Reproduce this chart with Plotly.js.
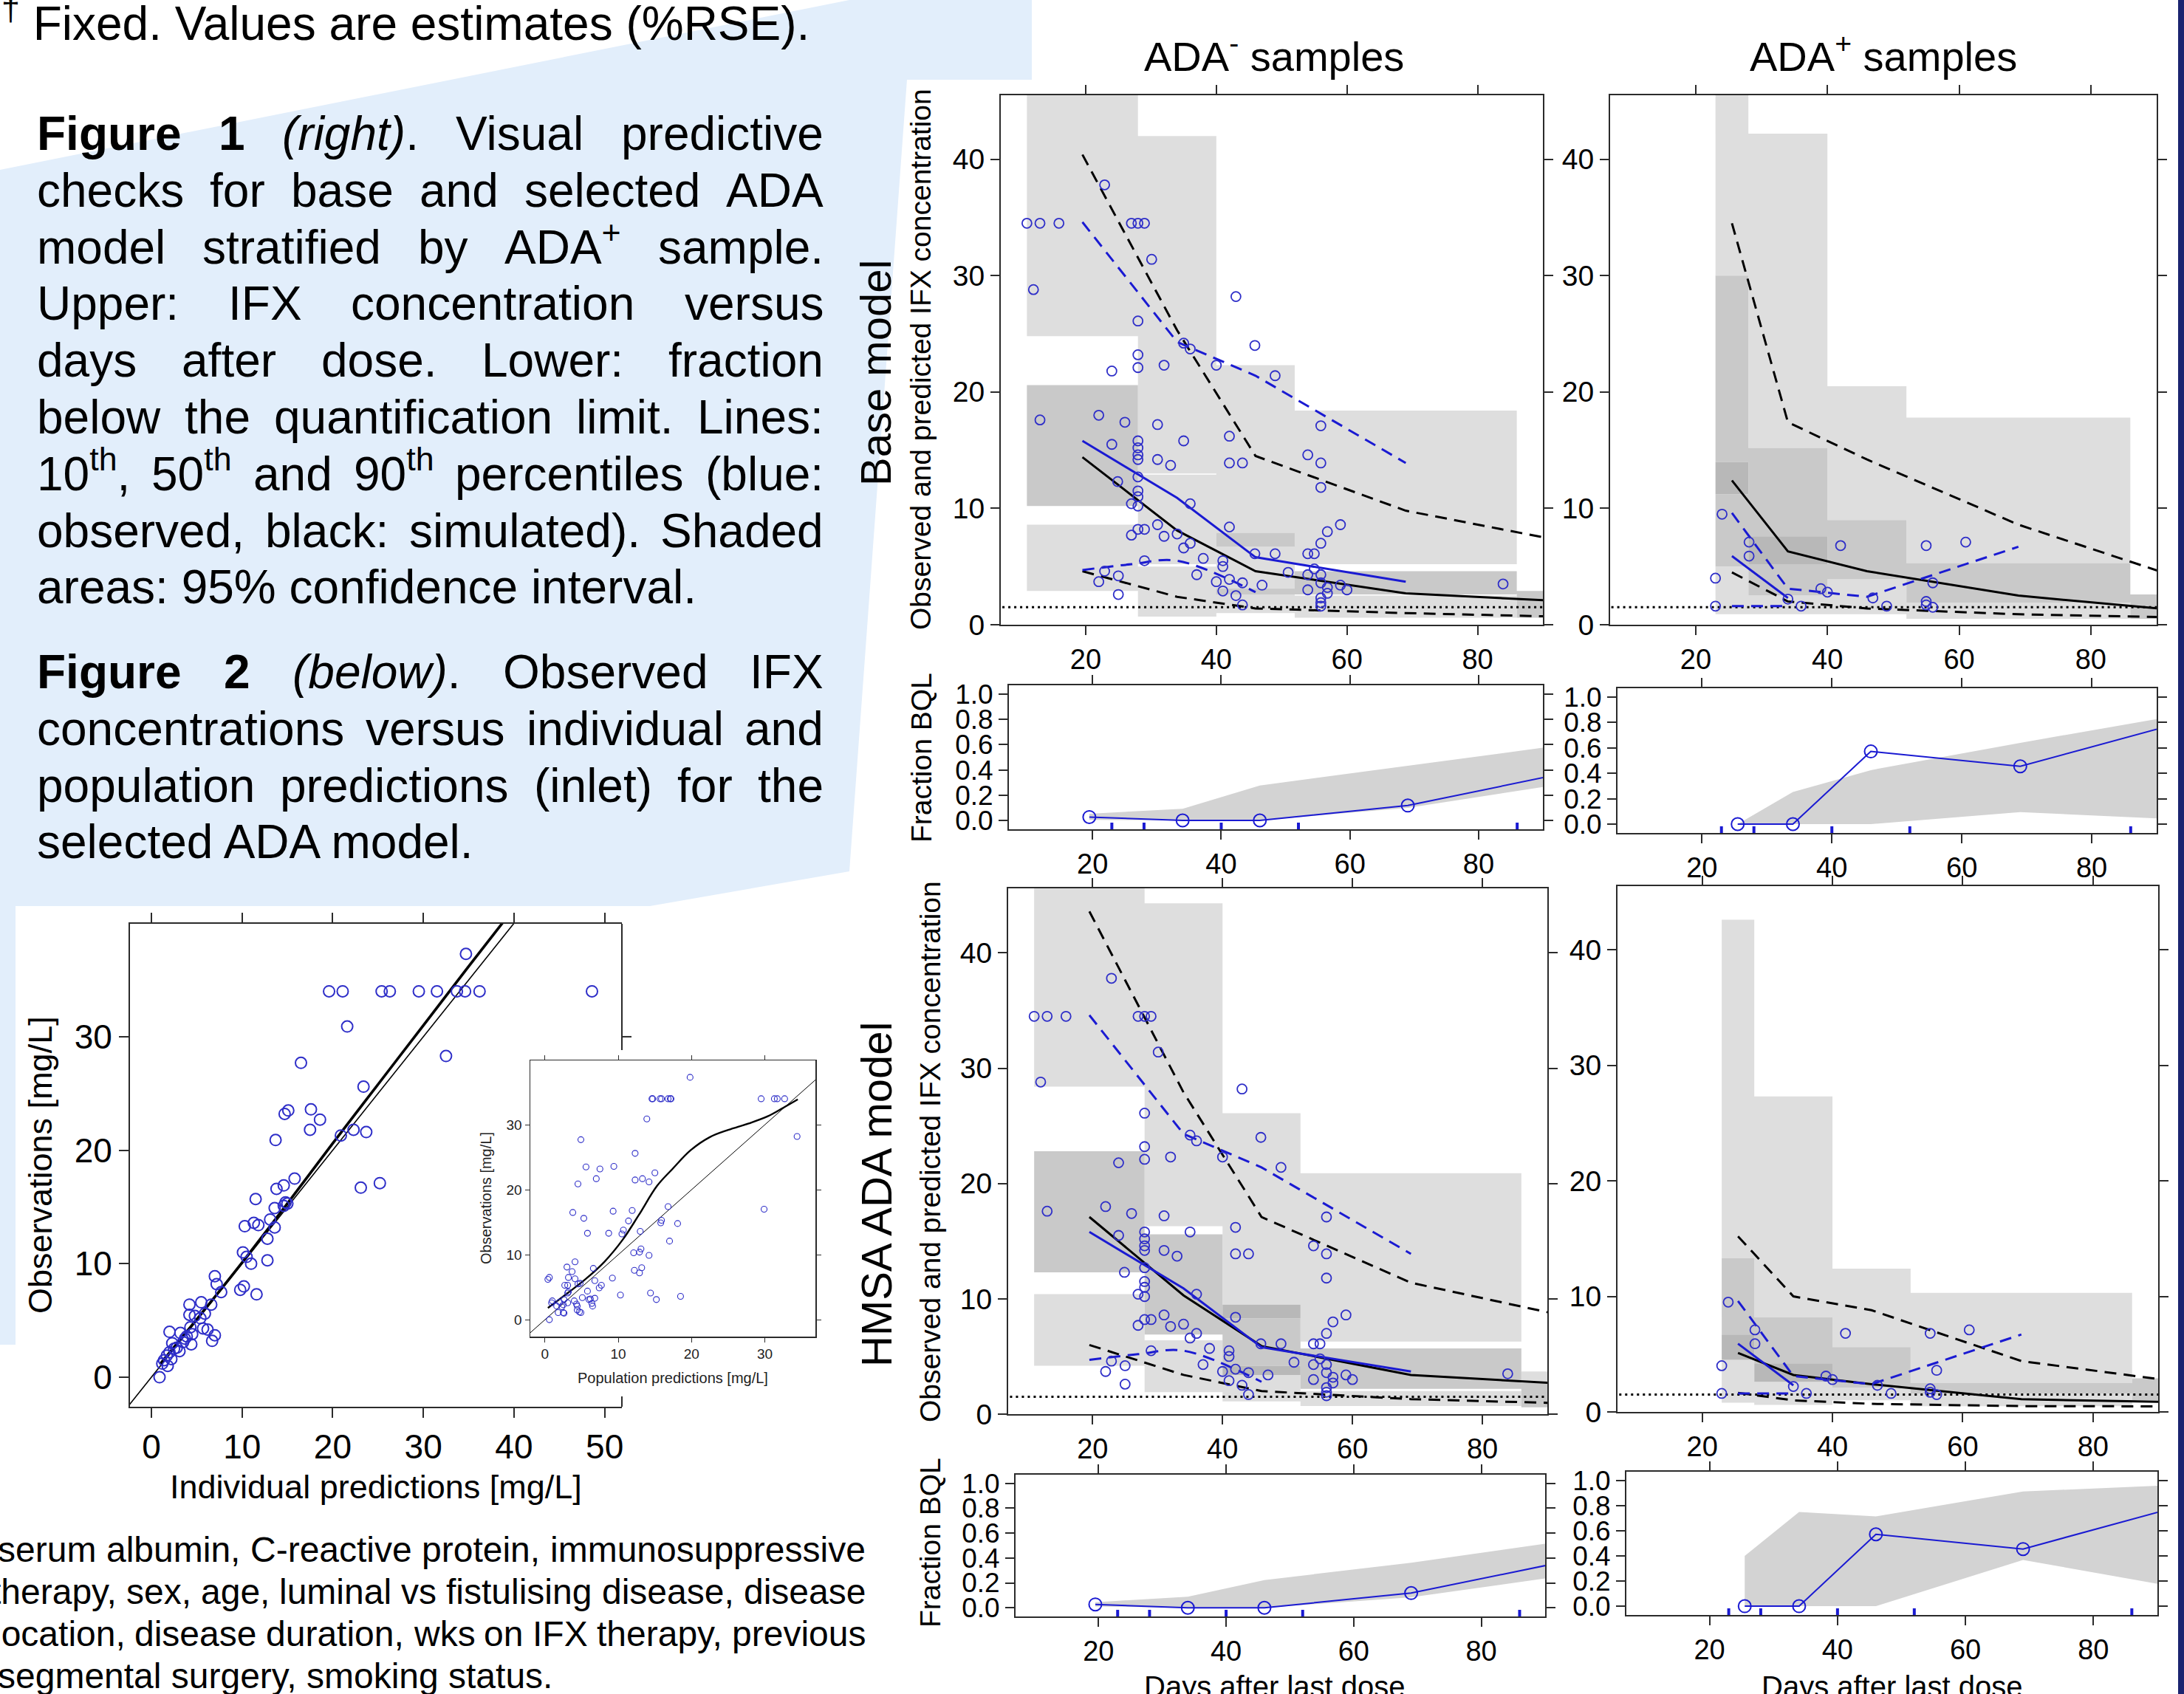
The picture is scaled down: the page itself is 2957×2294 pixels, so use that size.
<!DOCTYPE html>
<html>
<head>
<meta charset="utf-8">
<script src="https://cdn.plot.ly/plotly-3.0.1.min.js"></script>
<style>html,body{margin:0;padding:0;background:#fff;overflow:hidden}#plot{width:2957px;height:2294px}</style>
</head>
<body>
<div id="plot"></div>
<script>
// ================= DATA =================
const xTicks = [20, 40, 60, 80];
const concTicks = [0, 10, 20, 30, 40];
const bqlTicks = [0, 0.2, 0.4, 0.6, 0.8, 1.0];
const scatTicksX = [0, 10, 20, 30, 40, 50];
const scatTicksY = [0, 10, 20, 30];
const insetTicks = [0, 10, 20, 30];
const LOQ = 1.5;

// Observed IFX concentrations, ADA- samples (days after last dose, mg/L)
const obsNegDay = [11,13,15.9,12,22.9,27,28,29,30.1,43,
  28,28,28,24,32,35,36,40,45.9,49,
  13,22,26,31,56,24,28,28,28,28,
  35,42,54,31,33,42,44,56,28,24.9,
  56,28,28,27,28,36,31,42,59,27,
  28,29,32,34,57,36,35,56,45.9,49,
  54,55,38,29,41,41,55,37,51,54,
  56,22.9,25,22,40,42,44,47,59,57,
  60,56,41,54,43,25,57,56,56,56,
  44,83.9];
const obsNegConc = [34.5,34.5,34.5,28.8,37.8,34.5,34.5,34.5,31.4,28.2,
  26.1,23.2,22.1,21.8,22.3,24.2,23.7,22.3,24.0,21.4,
  17.6,18.0,17.4,17.2,17.1,15.5,15.8,15.2,14.6,14.2,
  15.8,16.2,14.6,14.2,13.7,13.9,13.9,13.9,12.7,12.3,
  11.8,11.5,11.0,10.4,10.2,10.4,8.6,8.4,8.6,7.7,
  8.2,8.2,7.6,7.8,8.0,7.0,6.6,7.0,6.1,6.1,
  6.1,6.1,5.7,5.5,5.5,5.0,4.8,4.3,4.5,4.3,
  4.3,4.6,4.2,3.7,3.7,3.9,3.6,3.4,3.4,3.2,
  3.0,3.6,2.9,3.0,2.5,2.6,2.7,2.3,1.9,1.6,
  1.7,3.5];
// Observed IFX concentrations, ADA+ samples
const obsPosDay  = [24,23,23,28.1,28.1,34,36,39,40,42,46.9,49,55,55,55,56,56,61];
const obsPosConc = [9.5,4.0,1.6,7.1,5.9,2.2,1.6,3.1,2.8,6.8,2.3,1.6,6.8,2.0,1.7,3.6,1.5,7.1];

// Observed percentiles (blue)
const obsNegMedDay = [19.5,34,46,69], obsNegMed = [15.8,10.9,5.8,3.7];
const obsNegP90Day = [19.5,34,46,69], obsNegP90 = [34.6,24.3,21.4,13.9];
const obsNegP10Day = [19.5,27,34,46], obsNegP10 = [4.7,5.2,5.5,2.8];
const obsPosMedDay = [25.5,34], obsPosMed = [5.9,2.3];
const obsPosP90Day = [25.5,34,46,69], obsPosP90 = [9.6,3.1,2.4,6.7];
const obsPosP10Day = [25.5,34], obsPosP10 = [1.6,1.6];

// Simulated percentiles (black)
const simNegDay = [19.5,34,46,69,92];
const simPosDay = [25.5,34,46,69,92];
const baseNegP90 = [40.4,25.3,14.5,9.8,7.3], baseNegMed = [14.4,8.1,4.6,2.7,2.05], baseNegP10 = [4.6,2.4,1.4,1.0,0.7];
const basePosP90 = [34.5,17.4,14.2,8.6,4.3], basePosMed = [12.4,6.3,4.6,2.5,1.3], basePosP10 = [4.5,2.0,1.4,0.9,0.65];
const hmsaNegP90 = [43.6,27.9,17.1,11.4,8.6], hmsaNegMed = [17.1,10.3,5.9,3.4,2.65], hmsaNegP10 = [6.0,3.4,2.0,1.3,0.95];
const hmsaPosP90 = [15.2,10.0,8.8,4.4,2.7], hmsaPosMed = [5.1,3.2,2.4,1.1,0.85], hmsaPosP10 = [1.65,1.0,0.7,0.5,0.48];

// 95% CI boxes: [day from, day to, conc low, conc high] and their shade class
const ciBaseNeg = [[11,28,24.8,46],[11,28,10.2,20.6],[11,28,2.9,8.6],[28,40,13.0,42.0],[28,40,5.2,12.9],[28,40,0.7,5.0],
  [40,52,7.9,22.3],[40,52,6.7,7.9],[40,52,1.0,6.7],[40,52,2.6,3.1],[52,86,5.2,18.4],[52,86,2.6,4.6],[52,86,0.6,2.5],[86,95,0.6,2.9]];
const ciBaseNegTone = ['L','M','L','L','L','L','L','M','L','M','L','M','L','M'];
const ciBasePos = [[23,28,30.0,46],[23,28,14.0,30.0],[23,28,11.2,14.0],[23,28,5.0,11.2],[23,28,0.9,5.0],
  [28,40,15.2,42.2],[28,40,7.6,15.2],[28,40,5.2,7.6],[28,40,2.5,5.2],[28,40,0.9,2.5],
  [40,52,9.0,20.5],[40,52,3.9,9.0],[40,52,0.9,3.9],[52,86,5.3,17.8],[52,86,1.9,5.3],[52,86,0.5,1.9],[86,95,0.5,2.6]];
const ciBasePosTone = ['L','M','D','M','L','L','M','D','M','L','L','M','L','L','M','L','M'];
const ciHmsaNeg = [[11,28,28.4,46],[11,28,12.3,22.8],[11,28,4.2,10.4],[28,40,16.3,44.3],[28,40,6.9,15.6],[28,40,1.9,6.4],
  [40,52,9.5,26.1],[40,52,8.3,9.5],[40,52,4.2,8.3],[40,52,3.4,4.2],[40,52,1.1,3.4],[52,86,6.3,20.9],[52,86,2.2,5.7],[52,86,0.7,2.0],
  [86,95,2.7,3.7],[86,95,0.6,2.7]];
const ciHmsaNegTone = ['L','M','L','L','M','L','L','D','M','D','L','L','M','L','L','M'];
const ciHmsaPos = [[23,28,13.3,42.6],[23,28,6.7,13.3],[23,28,4.5,6.7],[23,28,0.8,4.5],[28,40,8.2,27.3],[28,40,4.2,8.2],[28,40,2.6,4.2],[28,40,0.6,2.6],
  [40,52,5.6,12.4],[40,52,2.1,5.6],[40,52,1.0,2.1],[52,86,2.5,10.3],[52,86,1.6,2.5],[52,86,0.5,1.6],[86,95,1.0,2.9]];
const ciHmsaPosTone = ['L','M','D','L','L','M','D','L','L','M','L','L','M','L','M'];

// Fraction below quantification limit
const bqlNegDay = [19.5,34,46,69,92], bqlNegObs = [0.027,0,0,0.118,0.36];
const bqlPosDay = [25.5,34,46,69,92], bqlPosObs = [0,0,0.572,0.455,0.775];
const bqlBaseNegHi = [0.053,0.092,0.277,0.434,0.589], bqlBaseNegLo = [0.004,0,0,0.10,0.28];
const bqlHmsaNegHi = [0.045,0.089,0.223,0.362,0.53],  bqlHmsaNegLo = [0.01,0,0,0.085,0.25];
const bqlBasePosHi = [0,0.253,0.425,0.64,0.845],      bqlBasePosLo = [0,0,0,0.094,0.04];
const bqlHmsaPosHi = [0.40,0.75,0.715,0.913,0.962],   bqlHmsaPosLo = [0,0,0,0.368,0.16];
const rugDays = [23,28,40,52,86];

// Figure 2: observations vs individual predictions
const ipred = [19.6,21.1,25.4,26.3,29.5,31.5,33.7,34.6,36.2,48.6,
  34.7,21.6,32.5,16.5,23.4,15.1,14.7,17.6,18.6,13.7,
  17.5,20.9,22.3,23.7,23.1,25.2,15.8,14.6,13.8,11.5,
  15.0,14.6,14.8,13.6,13.1,10.3,11.3,11.8,13.6,12.8,
  10.1,10.5,11.0,12.8,7.0,7.2,7.7,10.2,9.8,11.6,
  4.2,5.5,6.6,4.2,4.8,5.4,5.9,5.7,6.2,4.3,
  7.0,6.7,2.0,3.2,3.7,4.4,2.3,2.8,3.1,2.0,
  1.7,1.4,1.2,1.8,0.9,2.5,3.5,3.9,4.5,2.2];
const ipredObs = [34,34,34,34,34,34,34,34,34,34,
  37.3,30.9,28.3,27.7,25.6,23.5,23.2,23.6,22.7,20.9,
  21.8,21.3,21.8,21.6,16.7,17.1,17.5,16.9,16.6,15.7,
  15.3,15.1,15.4,14.9,13.9,13.3,13.6,13.4,13.2,12.2,
  11.0,10.6,10.0,10.3,8.9,8.2,7.5,8.0,7.7,7.3,
  6.4,6.6,6.4,5.5,5.4,5.2,5.6,4.3,4.2,4.4,
  3.7,3.2,4.0,3.9,3.4,2.9,3.0,2.6,2.3,2.2,
  1.9,1.5,1.2,1.0,0.0,2.5,3.1,3.6,3.8,1.6];
const ipredSmoothX = [1,5,10,15,20,25,30,35,39];
const ipredSmoothY = [1.2,5.1,10.1,15.3,20.6,25.8,31.0,36.2,40.3];
// Inlet: observations vs population predictions
const pred = [19.8,14.6,14.7,15.7,15.9,16.8,17.1,17.2,29.5,31.3,
  31.7,32.7,13.9,34.4,4.9,12.3,5.6,7.5,9.4,15.0,
  7.0,12.3,13.3,14.2,4.5,3.8,9.3,11.9,16.8,29.9,
  5.3,11.4,15.9,15.8,18.1,5.8,8.7,10.7,10.5,13.0,
  17.0,12.1,12.9,13.1,14.2,4.1,12.2,12.9,13.2,3.0,
  3.7,6.6,0.4,0.6,3.2,4.1,9.2,6.8,2.7,3.1,
  4.5,4.8,7.7,7.4,5.8,3.1,3.2,14.4,10.3,18.5,
  5.1,6.2,6.0,6.8,15.2,1.0,2.0,2.6,4.0,3.1,
  4.3,4.4,6.4,6.5,0.9,1.6,2.3,2.5,4.4,4.7,
  4.9,1.8,2.5,2.6,0.6];
const predObs = [37.3,34,34,34,34,34,34,34,34,34,
  34,34,30.9,28.2,27.7,25.6,23.5,23.2,23.6,22.6,
  21.7,21.5,21.7,21.2,20.9,16.5,16.7,16.8,17.4,17.0,
  15.6,15.2,15.3,14.9,14.8,13.3,13.3,13.8,13.2,13.6,
  12.1,10.3,10.4,10.9,9.9,8.9,7.6,7.2,8.0,8.1,
  7.4,7.9,6.2,6.5,6.5,6.3,6.4,6.0,5.3,5.3,
  5.5,5.6,5.3,4.9,4.4,4.1,4.3,4.1,3.8,3.6,
  3.4,3.2,3.1,3.3,3.1,2.9,2.7,3.1,2.9,2.6,
  2.4,2.1,2.5,2.1,2.6,2.1,2.0,2.3,1.5,1.2,
  1.1,1.1,1.1,1.0,0.0];
const predSmoothX = [0.4,3.1,5.6,8.1,10.6,12.8,15.3,17.4,19.9,22.5,25.0,27.8,30.4,32.5,34.5];
const predSmoothY = [1.8,4.1,6.3,8.9,12.3,16.1,20.6,23.2,26.1,28.1,29.2,30.2,31.3,32.6,33.9];
const identity = [-5, 60];

// Texts
const topNote = "<sup>†</sup> Fixed. Values are estimates (%RSE).";
const fig1Lines = [
  "<b>Figure</b> <b>1</b> <i>(right)</i>. Visual predictive",
  "checks for base and selected ADA",
  "model stratified by ADA<sup>+</sup> sample.",
  "Upper: IFX concentration versus",
  "days after dose. Lower: fraction",
  "below the quantification limit. Lines:",
  "10<sup>th</sup>, 50<sup>th</sup> and 90<sup>th</sup> percentiles (blue:",
  "observed, black: simulated). Shaded",
  "areas: 95% confidence interval."];
const fig2Lines = [
  "<b>Figure</b> <b>2</b> <i>(below)</i>. Observed IFX",
  "concentrations versus individual and",
  "population predictions (inlet) for the",
  "selected ADA model."];
const covLines = [
  "serum albumin, C-reactive protein, immunosuppressive",
  "therapy, sex, age, luminal vs fistulising disease, disease",
  "location, disease duration, wks on IFX therapy, previous",
  "segmental surgery, smoking status."];

// ================= RENDERING =================
const W = 2957, H = 2294;
const FONT = '"Liberation Sans", Arial, Helvetica, sans-serif';
const PX = v => v / W, PY = v => 1 - v / H;
const BLUE = '#1a1ad2', PTBLUE = '#2e2ec8', AXC = '#2b2b2b';
const TONE = {L: '#dedede', M: '#c9c9c9', D: '#b8b8b8'};

function xAx(l, r, range, anchor, o) {
  return Object.assign({domain: [PX(l), PX(r)], range, anchor, showgrid: false, zeroline: false, showline: true,
    linecolor: AXC, linewidth: 2, mirror: 'ticks', ticks: 'outside', ticklen: 12, tickwidth: 2, tickcolor: AXC,
    tickmode: 'array', tickfont: {family: FONT, size: 38, color: '#000'}, fixedrange: true}, o || {});
}
function yAx(t, b, range, anchor, o) {
  return Object.assign({domain: [PY(b), PY(t)], range, anchor, showgrid: false, zeroline: false, showline: true,
    linecolor: AXC, linewidth: 2, mirror: 'ticks', ticks: 'outside', ticklen: 12, tickwidth: 2, tickcolor: AXC,
    tickmode: 'array', tickfont: {family: FONT, size: 39, color: '#000'}, fixedrange: true}, o || {});
}
const bqlFont = {family: FONT, size: 37, color: '#000'};

const layout = {
  width: W, height: H, margin: {l: 0, r: 0, t: 0, b: 0},
  paper_bgcolor: '#ffffff', plot_bgcolor: 'rgba(0,0,0,0)', showlegend: false,
  xaxis:  xAx(1355, 2089, [7, 90], 'y',  {tickvals: xTicks}),
  yaxis:  yAx(129, 846, [0, 45.5], 'x',  {tickvals: concTicks}),
  xaxis2: xAx(2180, 2920, [7, 90], 'y2', {tickvals: xTicks}),
  yaxis2: yAx(129, 846, [0, 45.5], 'x2', {tickvals: concTicks}),
  xaxis3: xAx(1366, 2089, [7, 90], 'y3', {tickvals: xTicks}),
  yaxis3: yAx(928, 1123, [-0.07, 1.07], 'x3', {tickvals: bqlTicks, tickformat: '.1f', tickfont: bqlFont}),
  xaxis4: xAx(2190, 2920, [7, 90], 'y4', {tickvals: xTicks}),
  yaxis4: yAx(932, 1128, [-0.07, 1.07], 'x4', {tickvals: bqlTicks, tickformat: '.1f', tickfont: bqlFont}),
  xaxis5: xAx(1365, 2095, [7, 90], 'y5', {tickvals: xTicks}),
  yaxis5: yAx(1203, 1915, [0, 45.6], 'x5', {tickvals: concTicks}),
  xaxis6: xAx(2190, 2922, [7, 90], 'y6', {tickvals: xTicks}),
  yaxis6: yAx(1200, 1912, [0, 45.5], 'x6', {tickvals: concTicks}),
  xaxis7: xAx(1375, 2092, [7, 90], 'y7', {tickvals: xTicks}),
  yaxis7: yAx(1997, 2189, [-0.07, 1.07], 'x7', {tickvals: bqlTicks, tickformat: '.1f', tickfont: bqlFont}),
  xaxis8: xAx(2202, 2921, [7, 90], 'y8', {tickvals: xTicks}),
  yaxis8: yAx(1993, 2187, [-0.07, 1.07], 'x8', {tickvals: bqlTicks, tickformat: '.1f', tickfont: bqlFont}),
  xaxis9: xAx(176, 842, [-2.36, 51.9], 'y9', {tickvals: scatTicksX, ticklen: 13, tickfont: {family: FONT, size: 46, color: '#000'}}),
  yaxis9: yAx(1251, 1905, [-2.6, 39.95], 'x9', {tickvals: scatTicksY, mirror: false, ticklen: 13, tickfont: {family: FONT, size: 46, color: '#000'}}),
  xaxis10: xAx(718, 1104, [-2.0, 36.9], 'y10', {tickvals: insetTicks, ticklen: 6, tickwidth: 1, linewidth: 1.5, tickfont: {family: FONT, size: 19, color: '#222'}}),
  yaxis10: yAx(1436, 1810, [-2.6, 39.9], 'x10', {tickvals: insetTicks, ticklen: 6, tickwidth: 1, linewidth: 1.5, tickfont: {family: FONT, size: 19, color: '#222'}}),
  shapes: [], annotations: []
};

// background shapes
const bgPoly = [[0,230],[1150,0],[1397,0],[1397,108],[1228,108],[1150,1180],[880,1227],[21,1227],[21,1821],[0,1821]];
layout.shapes.push({type: 'path', xref: 'paper', yref: 'paper', layer: 'below',
  path: 'M' + bgPoly.map(p => PX(p[0]) + ',' + PY(p[1])).join(' L') + ' Z',
  fillcolor: '#e2eefb', line: {width: 0}});
layout.shapes.push({type: 'rect', xref: 'paper', yref: 'paper', x0: PX(2949), x1: 1, y0: 0, y1: 1,
  fillcolor: '#1b2470', line: {width: 0}});
// right frame of figure 2 (partly hidden behind the inlet)
layout.shapes.push({type: 'line', xref: 'paper', yref: 'paper', x0: PX(842), x1: PX(842), y0: PY(1251), y1: PY(1422), line: {color: AXC, width: 2}});
layout.shapes.push({type: 'line', xref: 'paper', yref: 'paper', x0: PX(842), x1: PX(842), y0: PY(1891), y1: PY(1905), line: {color: AXC, width: 2}});
layout.shapes.push({type: 'line', xref: 'paper', yref: 'y9', x0: PX(842), x1: PX(855), y0: scatTicksY[3], y1: scatTicksY[3], line: {color: AXC, width: 2}});

const traces = [];
function rectFill(rects, tones, tone, xa, ya) {
  const x = [], y = [];
  rects.forEach((r, i) => { if (tones[i] !== tone) return;
    x.push(r[0], r[1], r[1], r[0], r[0], null); y.push(r[2], r[2], r[3], r[3], r[2], null); });
  traces.push({type: 'scatter', mode: 'lines', x, y, fill: 'toself', fillcolor: TONE[tone],
    line: {width: 0, color: TONE[tone]}, xaxis: xa, yaxis: ya, hoverinfo: 'skip'});
}
function line(x, y, xa, ya, color, dash, width, shape) {
  traces.push({type: 'scatter', mode: 'lines', x, y, xaxis: xa, yaxis: ya, hoverinfo: 'skip',
    line: {color, dash: dash || 'solid', width: width || 3, shape: shape || 'linear'}});
}
function pts(x, y, xa, ya, size, lw) {
  traces.push({type: 'scatter', mode: 'markers', x, y, xaxis: xa, yaxis: ya, hoverinfo: 'skip',
    marker: {symbol: 'circle-open', size, color: PTBLUE, line: {color: PTBLUE, width: lw}}});
}
const DASH = '16px,10px';

function concPanel(xa, ya, rects, tones, simDay, p90, med, p10, obsSet) {
  ['L', 'M', 'D'].forEach(t => rectFill(rects, tones, t, xa, ya));
  line([0, 100], [LOQ, LOQ], xa, ya, '#000', '3px,5px', 3);
  line(simDay, p90, xa, ya, '#000', DASH, 3);
  line(simDay, p10, xa, ya, '#000', DASH, 3);
  line(simDay, med, xa, ya, '#000', 'solid', 3);
  line(obsSet.p90d, obsSet.p90, xa, ya, BLUE, DASH, 3);
  line(obsSet.p10d, obsSet.p10, xa, ya, BLUE, DASH, 3, 'spline');
  line(obsSet.medd, obsSet.med, xa, ya, BLUE, 'solid', 3);
  pts(obsSet.x, obsSet.y, xa, ya, 13, 1.8);
}
const obsNeg = {x: obsNegDay, y: obsNegConc, medd: obsNegMedDay, med: obsNegMed, p90d: obsNegP90Day, p90: obsNegP90, p10d: obsNegP10Day, p10: obsNegP10};
const obsPos = {x: obsPosDay, y: obsPosConc, medd: obsPosMedDay, med: obsPosMed, p90d: obsPosP90Day, p90: obsPosP90, p10d: obsPosP10Day, p10: obsPosP10};
concPanel('x', 'y', ciBaseNeg, ciBaseNegTone, simNegDay, baseNegP90, baseNegMed, baseNegP10, obsNeg);
concPanel('x2', 'y2', ciBasePos, ciBasePosTone, simPosDay, basePosP90, basePosMed, basePosP10, obsPos);
concPanel('x5', 'y5', ciHmsaNeg, ciHmsaNegTone, simNegDay, hmsaNegP90, hmsaNegMed, hmsaNegP10, obsNeg);
concPanel('x6', 'y6', ciHmsaPos, ciHmsaPosTone, simPosDay, hmsaPosP90, hmsaPosMed, hmsaPosP10, obsPos);

function bqlPanel(xa, ya, day, hi, lo, obs) {
  traces.push({type: 'scatter', mode: 'lines', x: day.concat(day.slice().reverse()), y: hi.concat(lo.slice().reverse()),
    fill: 'toself', fillcolor: '#d3d3d3', line: {width: 0, color: '#d3d3d3'}, xaxis: xa, yaxis: ya, hoverinfo: 'skip'});
  traces.push({type: 'scatter', mode: 'lines+markers', x: day, y: obs, xaxis: xa, yaxis: ya, hoverinfo: 'skip',
    line: {color: BLUE, width: 2}, marker: {symbol: 'circle-open', size: 17, color: BLUE, line: {color: BLUE, width: 2}}});
  traces.push({type: 'scatter', mode: 'markers', x: rugDays, y: rugDays.map(() => -0.05), xaxis: xa, yaxis: ya, hoverinfo: 'skip',
    marker: {symbol: 'line-ns', size: 8, color: BLUE, line: {color: BLUE, width: 4}}});
}
bqlPanel('x3', 'y3', bqlNegDay, bqlBaseNegHi, bqlBaseNegLo, bqlNegObs);
bqlPanel('x4', 'y4', bqlPosDay, bqlBasePosHi, bqlBasePosLo, bqlPosObs);
bqlPanel('x7', 'y7', bqlNegDay, bqlHmsaNegHi, bqlHmsaNegLo, bqlNegObs);
bqlPanel('x8', 'y8', bqlPosDay, bqlHmsaPosHi, bqlHmsaPosLo, bqlPosObs);

// Figure 2
line(identity, identity, 'x9', 'y9', '#000', 'solid', 1.6);
line(ipredSmoothX, ipredSmoothY, 'x9', 'y9', '#000', 'solid', 3.6, 'spline');
pts(ipred, ipredObs, 'x9', 'y9', 15, 2);
line(identity, identity, 'x10', 'y10', '#000', 'solid', 1);
line(predSmoothX, predSmoothY, 'x10', 'y10', '#000', 'solid', 2.4, 'spline');
pts(pred, predObs, 'x10', 'y10', 8, 1.1);

// ---------- text ----------
const ctx = document.createElement('canvas').getContext('2d');
function segs(word) {
  const out = []; let b = false, i = false, sup = false; const re = /<(\/?)(b|i|sup)>|([^<]+)/g; let m;
  while ((m = re.exec(word))) {
    if (m[3]) out.push({t: m[3], b, i, sup});
    else { const on = !m[1]; if (m[2] === 'b') b = on; else if (m[2] === 'i') i = on; else sup = on; }
  }
  return out;
}
function wWidth(word, size) {
  let w = 0;
  for (const s of segs(word)) { ctx.font = (s.i ? 'italic ' : '') + (s.b ? 'bold ' : '') + (s.sup ? size * 0.7 : size) + 'px ' + FONT; w += ctx.measureText(s.t).width; }
  return w;
}
function ann(text, x, y, size, o) {
  layout.annotations.push(Object.assign({xref: 'paper', yref: 'paper', x: PX(x), y: PY(y), text, showarrow: false,
    xanchor: 'center', yanchor: 'middle', borderpad: 0, font: {family: FONT, size, color: '#000'}}, o || {}));
}
function textLine(str, x0, x1, yc, size, justify) {
  const bottom = yc + 0.53 * size;
  if (!justify) { ann(str, x0, bottom, size, {xanchor: 'left', yanchor: 'bottom'}); return; }
  const words = str.split(' ');
  const ws = words.map(w => wWidth(w, size));
  const total = ws.reduce((a, b) => a + b, 0);
  const gap = (x1 - x0 - total) / (words.length - 1);
  let x = x0;
  words.forEach((w, i) => { ann(w, x, bottom, size, {xanchor: 'left', yanchor: 'bottom'}); x += ws[i] + gap; });
}
const TS = 64;
textLine(topNote, 1, 0, 35, TS, false);
fig1Lines.forEach((ln, k) => textLine(ln, 49, 1114, 184 + k * 76.8, TS, k < fig1Lines.length - 1));
fig2Lines.forEach((ln, k) => textLine(ln, 49, 1114, 913 + k * 76.8, TS, k < fig2Lines.length - 1));
const covStart = [-4, -13, -10, -4];
covLines.forEach((ln, k) => textLine(ln, covStart[k], 1171, 2101 + k * 57, 48, k < covLines.length - 1));

// panel titles and axis titles
function titleSup(str, x, yc, size) { ann(str, x, yc + 0.53 * size, size, {yanchor: 'bottom'}); }
titleSup('ADA<sup>-</sup> samples', 1725, 79, 56);
titleSup('ADA<sup>+</sup> samples', 2550, 79, 56);
ann('Base model', 1186, 505, 58, {textangle: -90});
ann('HMSA ADA model', 1186, 1618, 58, {textangle: -90});
ann('Observed and predicted IFX concentration', 1247, 487, 39, {textangle: -90});
ann('Observed and predicted IFX concentration', 1259, 1560, 39, {textangle: -90});
ann('Fraction BQL', 1247, 1026, 39, {textangle: -90});
ann('Fraction BQL', 1259, 2089, 39, {textangle: -90});
ann('Days after last dose', 1726, 2284, 40);
ann('Days after last dose', 2562, 2284, 40);
ann('Individual predictions [mg/L]', 509, 2013, 45);
ann('Observations [mg/L]', 54, 1578, 45, {textangle: -90});
ann('Population predictions [mg/L]', 911, 1866, 20, {font: {family: FONT, size: 20, color: '#222'}});
ann('Observations [mg/L]', 658, 1623, 20, {textangle: -90, font: {family: FONT, size: 20, color: '#222'}});

Plotly.newPlot('plot', traces, layout, {displayModeBar: false, staticPlot: true});
</script>
</body>
</html>
